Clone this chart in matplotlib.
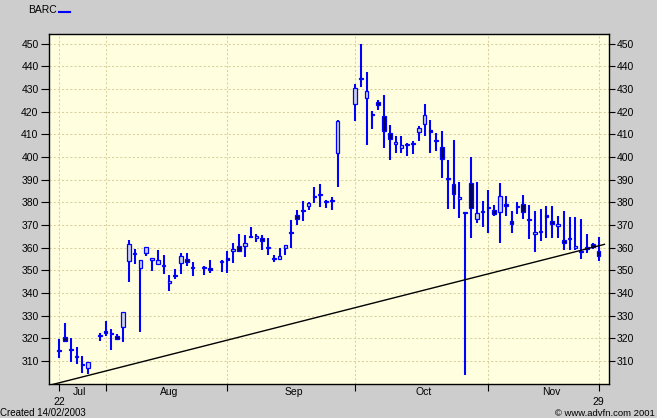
import numpy as np
import matplotlib
matplotlib.use("Agg")
import matplotlib.pyplot as plt
from matplotlib.lines import Line2D

# ---------------- data ----------------
dates = [
    "2002-07-22", "2002-07-23", "2002-07-24", "2002-07-25", "2002-07-26", "2002-07-29", "2002-07-31",
    "2002-08-01", "2002-08-02", "2002-08-05", "2002-08-06", "2002-08-07", "2002-08-08", "2002-08-09",
    "2002-08-12", "2002-08-13", "2002-08-14", "2002-08-15", "2002-08-16", "2002-08-19", "2002-08-20",
    "2002-08-21", "2002-08-22", "2002-08-27", "2002-08-28", "2002-08-30",
    "2002-09-02", "2002-09-03", "2002-09-04", "2002-09-05", "2002-09-06", "2002-09-09", "2002-09-10",
    "2002-09-11", "2002-09-12", "2002-09-13", "2002-09-16", "2002-09-17", "2002-09-18", "2002-09-19",
    "2002-09-20", "2002-09-23", "2002-09-24", "2002-09-25", "2002-09-26", "2002-09-27",
    "2002-10-02", "2002-10-03", "2002-10-04", "2002-10-07", "2002-10-08", "2002-10-09", "2002-10-10",
    "2002-10-11", "2002-10-14", "2002-10-15", "2002-10-16", "2002-10-17", "2002-10-18", "2002-10-21",
    "2002-10-22", "2002-10-23", "2002-10-24", "2002-10-25", "2002-10-28", "2002-10-29", "2002-10-30",
    "2002-10-31",
    "2002-11-01", "2002-11-04", "2002-11-05", "2002-11-06", "2002-11-07", "2002-11-08", "2002-11-11",
    "2002-11-12", "2002-11-13", "2002-11-14", "2002-11-15", "2002-11-18", "2002-11-19", "2002-11-20",
    "2002-11-21", "2002-11-22", "2002-11-25", "2002-11-26", "2002-11-27", "2002-11-28", "2002-11-29",
]
opens = [
    314.2, 320.4, 314.7, 311.9, 308.8, 306.7, 321.1,
    323.3, 322.0, 320.8, 325.1, 354.2, 357.2, 350.9,
    357.8, 354.4, 352.9, 351.8, 344.2, 347.5, 353.1,
    354.9, 350.9, 351.0, 351.1, 353.8,
    355.6, 358.5, 360.7, 360.7, 364.8, 364.1, 364.4,
    360.0, 354.9, 355.1, 360.0, 366.2, 374.5, 376.0,
    378.5, 382.1, 383.2, 380.0, 380.6, 401.9,
    423.3, 434.3, 425.9, 418.6, 424.0, 418.1, 410.5,
    405.5, 404.1, 405.2, 405.8, 410.8, 414.5, 411.9,
    407.6, 404.4, 390.2, 388.1, 381.3, 375.4, 388.5,
    372.5,
    376.3, 377.4, 376.6, 375.5, 379.2, 371.7, 377.7,
    379.3, 372.7, 366.1, 366.8, 374.2, 371.8, 369.4,
    363.4, 363.7, 359.7, 358.0, 360.1, 361.6, 358.5,
]
highs = [
    319.7, 326.6, 320.0, 316.3, 312.3, 309.5, 322.2,
    327.6, 324.0, 321.7, 331.5, 363.4, 359.4, 354.4,
    360.2, 355.4, 359.0, 356.8, 347.7, 350.7, 357.4,
    357.5, 353.8, 352.0, 354.5, 354.5,
    358.5, 362.2, 366.0, 365.6, 369.2, 366.0, 365.6,
    364.4, 356.8, 359.7, 361.2, 372.2, 376.6, 380.6,
    380.3, 386.9, 388.1, 381.0, 382.1, 416.4,
    432.3, 449.9, 437.4, 420.3, 425.2, 427.4, 414.1,
    409.0, 409.0, 406.1, 406.8, 413.7, 423.4, 416.4,
    410.6, 411.2, 398.4, 407.5, 388.7, 375.4, 399.9,
    388.7,
    380.7, 385.5, 378.8, 388.4, 382.8, 375.9, 380.3,
    383.3, 378.8, 375.9, 376.9, 378.4, 378.4, 373.7,
    376.3, 373.4, 373.4, 372.7, 365.9, 362.2, 364.8,
]
lows = [
    311.1, 318.2, 309.4, 308.5, 304.5, 304.2, 318.8,
    321.1, 314.8, 319.2, 318.4, 345.0, 352.6, 322.9,
    356.4, 349.8, 352.2, 348.5, 340.9, 346.2, 348.5,
    352.0, 347.6, 347.7, 348.7, 349.1,
    348.9, 353.1, 358.2, 356.0, 364.1, 362.6, 358.7,
    356.8, 353.8, 354.5, 356.8, 359.7, 370.0, 371.9,
    376.6, 379.6, 377.8, 377.4, 376.6, 386.9,
    415.6, 430.8, 405.3, 412.4, 420.8, 403.9, 398.7,
    401.9, 401.7, 400.5, 401.3, 406.8, 409.0, 401.9,
    402.8, 390.6, 376.9, 376.9, 373.0, 303.8, 364.1,
    371.0,
    369.0, 366.2, 373.7, 362.2, 374.0, 366.3, 375.0,
    372.7, 363.7, 357.9, 363.1, 364.1, 364.1, 364.1,
    358.7, 358.7, 358.7, 354.9, 357.5, 359.3, 354.2,
]
closes = [
    314.2, 318.9, 314.7, 311.9, 308.1, 309.5, 321.1,
    322.3, 322.0, 319.8, 331.5, 361.5, 357.2, 354.4,
    360.2, 355.4, 354.4, 351.8, 345.3, 347.5, 356.2,
    353.8, 350.9, 351.0, 350.2, 353.8,
    354.6, 359.4, 358.5, 361.9, 364.8, 365.3, 363.1,
    360.0, 354.9, 356.3, 361.2, 366.2, 372.8, 376.0,
    379.6, 382.9, 383.2, 380.0, 380.6, 415.9,
    430.4, 434.3, 429.2, 418.6, 422.7, 411.6, 407.8,
    406.6, 405.3, 405.2, 405.8, 412.7, 418.4, 410.9,
    406.8, 399.0, 390.2, 383.7, 382.2, 375.4, 377.4,
    375.2,
    375.5, 377.4, 374.9, 382.7, 378.4, 370.2, 377.7,
    375.5, 372.0, 366.8, 366.8, 373.5, 370.3, 370.3,
    361.9, 364.4, 360.7, 358.0, 359.3, 360.1, 356.4,
]

# support trend line (session position, price)
trend_pos = [-1.5, 94.0]
trend_price = [299.35, 361.4]

holidays = ["2002-08-26"]
start_day = "2002-07-22"
tick_dates = ["2002-07-22", "2002-08-01", "2002-09-02", "2002-10-02", "2002-11-04", "2002-11-29"]
month_labels = ["Jul", "Aug", "Sep", "Oct", "Nov"]
end_day_labels = ["22", "29"]
y_ticks = list(range(310, 451, 10))

# ---------------- figure ----------------
FONT = "Liberation Sans"
plt.rcParams["font.family"] = [FONT, "DejaVu Sans"]
W, H = 657, 418
fig = plt.figure(figsize=(W / 100, H / 100), dpi=100, facecolor="#CDCDCD")
ax = fig.add_axes([49 / W, 1 - 384 / H, 560 / W, 350 / H])
ax.set_facecolor("#FFFFE0")

x = np.busday_count(start_day, np.array(dates, dtype="datetime64[D]"), holidays=holidays)
o = np.array(opens); h = np.array(highs); l = np.array(lows); c = np.array(closes)

ax.set_xlim(-1.76, 94.79)
ax.set_ylim(299.8, 454.2)

tick_x = np.busday_count(start_day, np.array(tick_dates, dtype="datetime64[D]"), holidays=holidays)
ax.set_xticks(tick_x)
ax.set_xticklabels([])
ax.set_yticks(y_ticks)
ax.set_yticklabels([str(v) for v in y_ticks])
ax.grid(True, color="#DACF9E", linestyle=(0, (2, 2)), linewidth=0.75)
ax.set_axisbelow(True)

# candles
ax.vlines(x, l, h, colors="#0000FF", linewidth=1.5, zorder=3)
bottom = np.minimum(o, c)
height = np.maximum(np.abs(c - o), 0.45)
fills = np.where(c >= o, "#CCD0E4", "#00005A")
ax.bar(x, height, bottom=bottom, width=0.62, color=fills, edgecolor="#0000FF",
       linewidth=0.9, zorder=4)

ax.plot(trend_pos, trend_price, color="black", linewidth=1.0, zorder=5)

for s in ax.spines.values():
    s.set_color("black")
    s.set_linewidth(1.0)

ax.tick_params(axis="y", direction="out", length=6, width=0.8, pad=1.5,
               labelsize=7.5, colors="black")
ax.tick_params(axis="x", direction="out", length=5, width=0.8)

ax2 = ax.twinx()
ax2.set_ylim(ax.get_ylim())
ax2.set_yticks(y_ticks)
ax2.set_yticklabels([str(v) for v in y_ticks])
ax2.tick_params(axis="y", direction="out", length=4, width=0.8, pad=1.5,
                labelsize=7.5, colors="black")
for s in ax2.spines.values():
    s.set_visible(False)

# month labels centred between month boundaries
xl = ax.get_xlim()
bounds = [xl[0]] + list(tick_x[1:-1]) + [xl[1]]
for i, name in enumerate(month_labels):
    mid = (bounds[i] + bounds[i + 1]) / 2 + 0.4
    ax.annotate(name, xy=(mid, 0), xycoords=("data", "axes fraction"),
                xytext=(0, -8), textcoords="offset pixels",
                ha="center", va="center", fontsize=7.5)
for pos, lab in zip([tick_x[0], tick_x[-1]], end_day_labels):
    ax.annotate(lab, xy=(pos, 0), xycoords=("data", "axes fraction"),
                xytext=(0, -18), textcoords="offset pixels",
                ha="center", va="center", fontsize=7.5)

# legend & footer
fig.text(28 / W, 1 - 10 / H, "BARC", fontsize=7.5, va="center", ha="left")
fig.add_artist(Line2D([59 / W, 70 / W], [1 - 12.3 / H] * 2, color="#0000FF", linewidth=1.5))
fig.text(0 / W, 1 - 412.5 / H, "Created 14/02/2003", fontsize=7.0, va="center", ha="left")
fig.text(655 / W, 1 - 413 / H, "\u00a9 www.advfn.com 2001", fontsize=6.8, va="center", ha="right")

fig.savefig("out.png", dpi=100, facecolor=fig.get_facecolor())
